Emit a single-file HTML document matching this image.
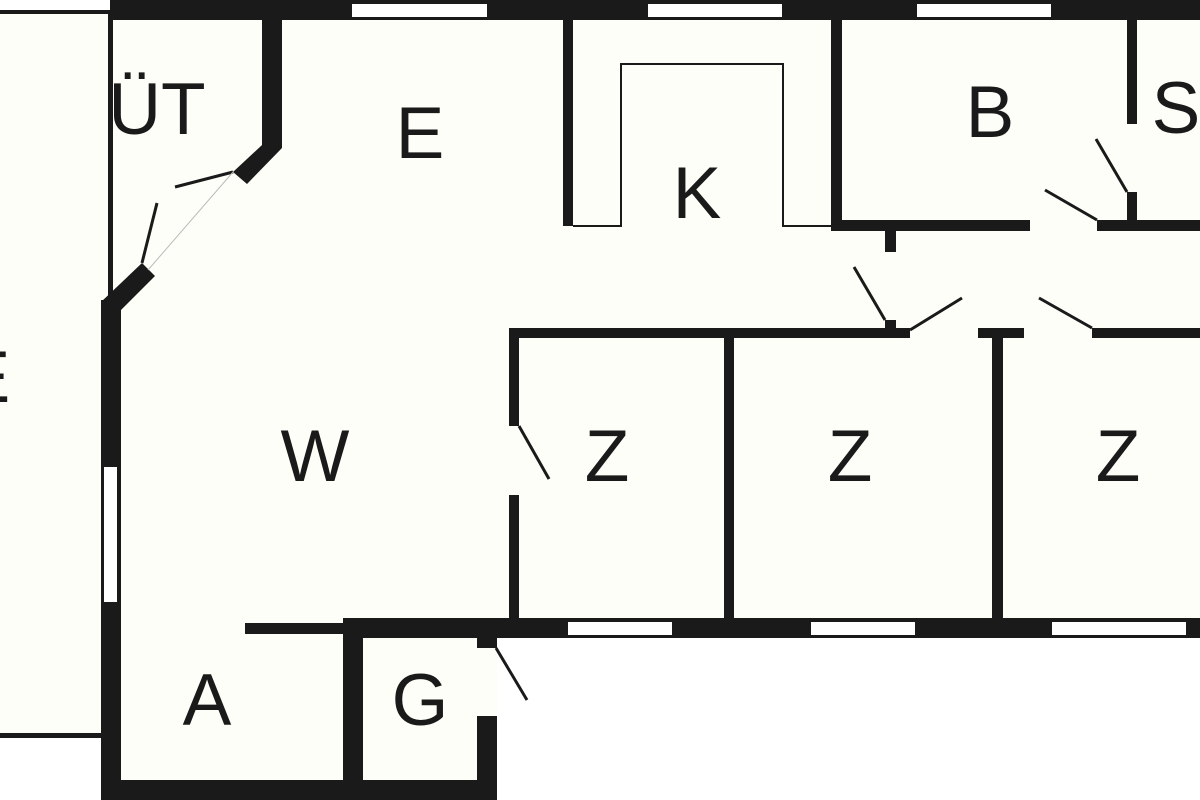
<!DOCTYPE html>
<html><head><meta charset="utf-8"><style>
html,body{margin:0;padding:0;background:#fff;width:1200px;height:800px;overflow:hidden}
svg{display:block}
text{font-family:"Liberation Sans",sans-serif;font-size:73px;fill:#1a1a1a;text-anchor:middle}
</style></head><body>
<svg width="1200" height="800" viewBox="0 0 1200 800" xmlns="http://www.w3.org/2000/svg">
<polygon points="0,12 1200,12 1200,628 497,628 497,800 101,800 101,736 0,736" fill="#fefef9"/>
<g fill="#1a1a1a">
<rect x="110" y="0" width="1090" height="20"/>
<rect x="0" y="10" width="110" height="4"/>
<rect x="0" y="733" width="103" height="5"/>
<rect x="108" y="10" width="5" height="292"/>
<rect x="262" y="18" width="20" height="130"/>
<polygon points="262,145 282,148 247,184 233,172"/>
<polygon points="142,263 155,276 121,310 101,302"/>
<rect x="101" y="300" width="20" height="500"/>
<rect x="101" y="780" width="396" height="20"/>
<rect x="245" y="623" width="100" height="11"/>
<rect x="343" y="618" width="20" height="170"/>
<rect x="477" y="618" width="20" height="30"/>
<rect x="477" y="716" width="20" height="84"/>
<rect x="343" y="618" width="857" height="20"/>
<rect x="509" y="328" width="10" height="98"/>
<rect x="509" y="495" width="10" height="125"/>
<rect x="724" y="330" width="10" height="292"/>
<rect x="992" y="330" width="11" height="292"/>
<rect x="509" y="328" width="401" height="10"/>
<rect x="978" y="328" width="46" height="10"/>
<rect x="1092" y="328" width="108" height="10"/>
<rect x="885" y="231" width="11" height="21"/>
<rect x="885" y="320" width="11" height="10"/>
<rect x="563" y="18" width="10" height="208"/>
<rect x="831" y="18" width="11" height="213"/>
<rect x="831" y="220" width="199" height="11"/>
<rect x="1097" y="220" width="103" height="11"/>
<rect x="1127" y="18" width="10" height="106"/>
<rect x="1127" y="192" width="10" height="30"/>
</g>
<g fill="#fff">
<rect x="352" y="4" width="135" height="13"/>
<rect x="648" y="4" width="134" height="13"/>
<rect x="917" y="4" width="134" height="13"/>
<rect x="104" y="467" width="13" height="135"/>
<rect x="568" y="622" width="104" height="13"/>
<rect x="811" y="622" width="104" height="13"/>
<rect x="1052" y="622" width="134" height="13"/>
</g>
<polyline points="573,226 621,226 621,64 783,64 783,226 831,226" fill="none" stroke="#1a1a1a" stroke-width="2"/>
<g stroke="#1a1a1a" stroke-width="3" fill="none">
<line x1="233" y1="172" x2="175" y2="187"/>
<line x1="142" y1="263" x2="157" y2="203"/>
<line x1="1096" y1="139" x2="1127" y2="192"/>
<line x1="1045" y1="190" x2="1097" y2="220"/>
<line x1="854" y1="267" x2="885" y2="320"/>
<line x1="910" y1="330" x2="962" y2="298"/>
<line x1="1039" y1="298" x2="1092" y2="328"/>
<line x1="519" y1="426" x2="549" y2="479"/>
<line x1="496" y1="648" x2="527" y2="700"/>
</g>
<line x1="233" y1="172" x2="148" y2="270" stroke="#bbb" stroke-width="1"/>
<text x="157" y="134">ÜT</text>
<text x="420" y="158">E</text>
<text x="697" y="218">K</text>
<text x="990" y="137">B</text>
<text x="1176" y="133">S</text>
<text x="315" y="481">W</text>
<text x="607" y="481">Z</text>
<text x="850" y="481">Z</text>
<text x="1118" y="481">Z</text>
<text x="207" y="725">A</text>
<text x="420" y="725">G</text>
<text x="-14" y="402">E</text>
</svg>
</body></html>
